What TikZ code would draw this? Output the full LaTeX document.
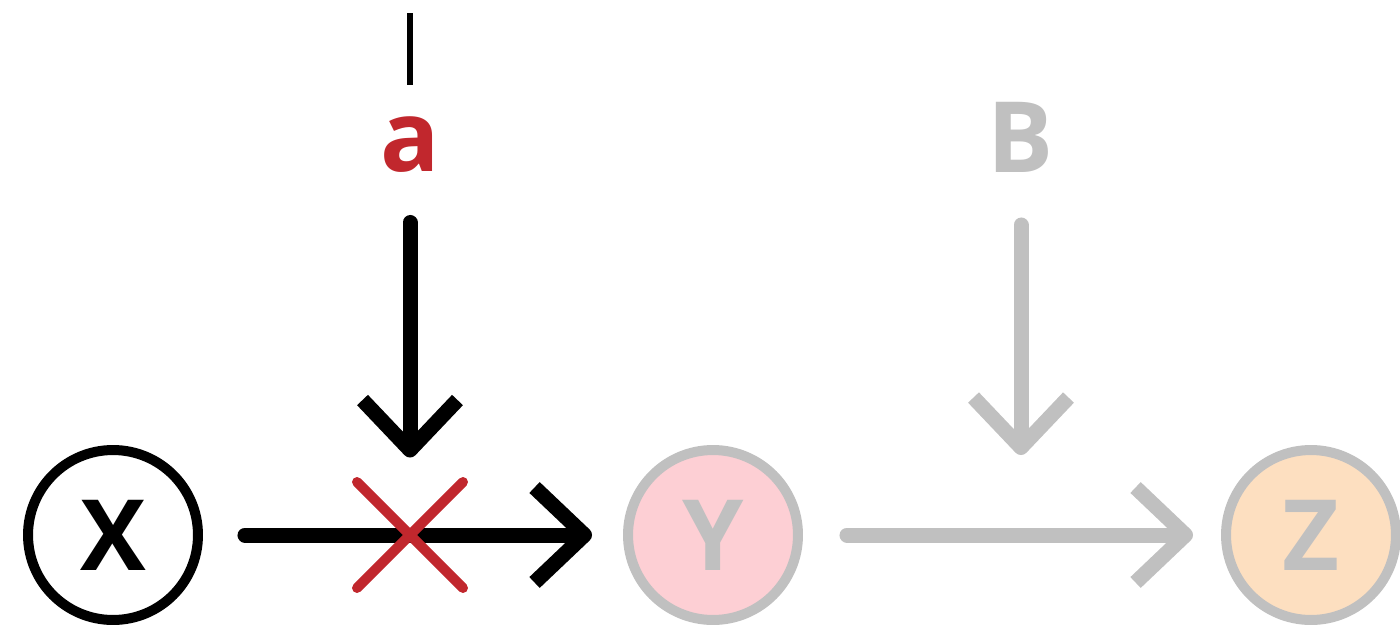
\documentclass[tikz,border=0pt]{standalone}
\usepackage{fontspec}
\setmainfont{Open Sans}
\usetikzlibrary{arrows.meta}
\definecolor{cutred}{RGB}{193,39,45}
\definecolor{fadegray}{RGB}{192,192,192}
\definecolor{yfill}{RGB}{253,207,212}
\definecolor{zfill}{RGB}{253,223,192}

\begin{document}
\begin{tikzpicture}
[x=0.02cm,y=-0.02cm,every node/.style={font=\fontsize{56}{60}\selectfont\bfseries},
var/.style={circle,draw,line width=0.2cm,minimum size=3.4cm,inner sep=0pt},
dim/.style={draw=fadegray,text=fadegray},
link/.style={line width=0.3cm,line cap=round,-{Straight Barb[length=1cm,width=1.9cm,line cap=butt,line join=round]}}]
\useasboundingbox (0,0) rectangle (1400,629);
\coordinate (stubtop) at (410,13);
\coordinate (stubend) at (410,85);
\draw[line width=0.12cm] (stubtop) -- (stubend);
\node[var] (x) at (113,535) {X};
\node[var,dim,fill=yfill] (y) at (713,535) {Y};
\node[var,dim,fill=zfill] (z) at (1311,535) {Z};
\node[text=cutred] (a) at (410,145) {a};
\node[text=fadegray] (b) at (1021,137) {B};
\coordinate (cut) at (410,535);
\coordinate (join) at (1021,535);
\draw[link] ([yshift=-1.55cm]a.center) -- ([yshift=1.55cm]cut);
\draw[link,fadegray] ([yshift=-1.76cm]b.center) -- ([yshift=1.6cm]join);
\draw[link,shorten <=0.84cm,shorten >=0.62cm] (x) -- (y);
\draw[link,fadegray,shorten <=0.88cm,shorten >=0.56cm] (y) -- (z);
\foreach \s in {1,-1}
\draw[cutred,line width=0.2cm,line cap=round] ([shift={(-1.06cm,\s*1.06 cm)}]cut) -- ([shift={(1.06cm,-\s*1.06 cm)}]cut);

\end{tikzpicture}
\end{document}
